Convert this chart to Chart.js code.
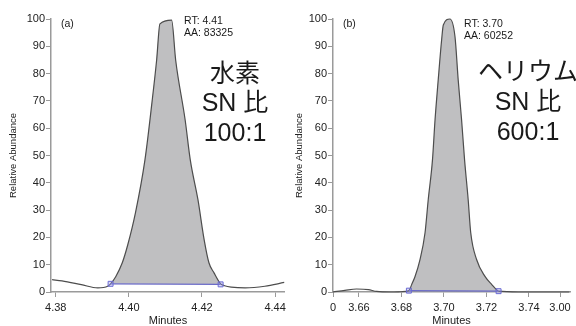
<!DOCTYPE html>
<html><head><meta charset="utf-8">
<script src="https://cdn.jsdelivr.net/npm/chart.js@4.4.0/dist/chart.umd.min.js"></script>
<style>
html,body{margin:0;padding:0;background:#fff;}
#wrap{position:relative;width:576px;height:326px;overflow:hidden;}
#ca{position:absolute;left:0;top:0;}
#cb{position:absolute;left:290px;top:0;}
</style></head><body>
<div id="wrap"><canvas id="ca" width="290" height="326"></canvas><canvas id="cb" width="286" height="326"></canvas></div>
<script>
// ---- Panel (a): hydrogen carrier ----
const timeA = [4.3790, 4.3817, 4.3870, 4.3915, 4.3942, 4.3950, 4.3964, 4.3982, 4.3997, 4.4018, 4.4044, 4.4064, 4.4076, 4.4085, 4.4117, 4.4128, 4.4154, 4.4168, 4.4189, 4.4206, 4.4219, 4.4233, 4.4251, 4.4262, 4.4280, 4.4318, 4.4372, 4.4425];
const abundA = [4.5, 4.1, 2.7, 1.5, 2.1, 3.0, 5.6, 10.7, 17.3, 29.0, 48.4, 70.4, 85.0, 98.2, 99.6, 85.0, 63.0, 48.4, 33.8, 19.1, 10.7, 7.0, 3.0, 2.3, 1.8, 1.5, 2.1, 3.5];
const baseTimeA = [4.3950, 4.4251];
const baseAbundA = [3.0, 2.8];
const xTicksA = [4.38, 4.40, 4.42, 4.44];
const xLabelsA = ['4.38', '4.40', '4.42', '4.44'];
const xRangeA = [4.3787, 4.4427];
const textA = {tag: '(a)', rt: 'RT: 4.41', aa: 'AA: 83325', big: ['水素', 'SN 比', '100:1']};

// ---- Panel (b): helium carrier ----
const timeB = [3.6478, 3.6534, 3.6589, 3.6644, 3.6683, 3.6750, 3.6800, 3.6835, 3.6848, 3.6864, 3.6887, 3.6911, 3.6926, 3.6946, 3.6958, 3.6973, 3.6989, 3.6997, 3.7028, 3.7052, 3.7067, 3.7083, 3.7097, 3.7114, 3.7126, 3.7154, 3.7193, 3.7225, 3.7248, 3.7257, 3.7350, 3.7590];
const abundB = [0, 0.6, 1.1, 0.9, 0.2, 0, 0.1, 0.5, 2.7, 5.7, 11.8, 21.7, 33.8, 48.4, 63.0, 77.7, 92.3, 97.8, 100, 93.5, 77.7, 63.0, 48.4, 33.8, 21.7, 11.8, 5.7, 2.7, 0.8, 0.3, 0, 0];
const baseTimeB = [3.6835, 3.7257];
const baseAbundB = [0.5, 0.3];
const xTicksB = [3.6478, 3.66, 3.68, 3.70, 3.72, 3.74, 3.7546];
const xLabelsB = ['0', '3.66', '3.68', '3.70', '3.72', '3.74', '3.00'];
const xRangeB = [3.6478, 3.7593];
const textB = {tag: '(b)', rt: 'RT: 3.70', aa: 'AA: 60252', big: ['ヘリウム', 'SN 比', '600:1']};

const yTicks = [0, 10, 20, 30, 40, 50, 60, 70, 80, 90, 100];

const FONT = '"Liberation Sans", Arial, "Noto Sans CJK JP", sans-serif';
Chart.defaults.font.family = FONT;
Chart.defaults.color = '#222';

const textPlugin = {
  id: 'annot',
  afterDraw(chart, args, o) {
    const ctx = chart.ctx;
    ctx.save();
    ctx.fillStyle = '#1a1a1a';
    ctx.textBaseline = 'middle';
    ctx.textAlign = 'left';
    ctx.font = '10.5px ' + FONT;
    ctx.fillText(o.t.tag, o.tagX, o.tagY);
    ctx.fillText(o.t.rt, o.rtX, o.rtY);
    ctx.fillText(o.t.aa, o.rtX, o.rtY + 12.5);
    ctx.textAlign = 'center';
    ctx.font = '25px ' + FONT;
    o.t.big.forEach((s, i) => ctx.fillText(s, o.bigX, o.bigY[i]));
    ctx.restore();
  }
};

function pts(xs, ys) { return xs.map((x, i) => ({x: x, y: ys[i]})); }

function makeChart(id, time, abund, baseT, baseY, xTicks, xLabels, xRange, yWidth, titlePad, padRight, annot) {
  const curve = pts(time, abund);
  const peak = curve.filter(p => p.x >= baseT[0] - 1e-9 && p.x <= baseT[1] + 1e-9);
  const base = pts(baseT, baseY);
  const axisGrid = {display: true, drawOnChartArea: false, drawTicks: true, tickLength: 5, color: '#9a9a9a', lineWidth: 1};
  const axisBorder = {display: true, color: '#9a9a9a', width: 1.5};
  return new Chart(document.getElementById(id), {
    type: 'line',
    data: {
      datasets: [
        {data: base, showLine: false, pointStyle: 'rect', pointRadius: 3.5, pointBorderWidth: 1,
         pointBorderColor: '#6a6ad2', pointBackgroundColor: 'rgba(150,150,235,0.35)', clip: 6},
        {data: base, borderColor: '#6b6bc8', borderWidth: 1.2, pointRadius: 0, tension: 0, clip: 6},
        {data: curve, borderColor: '#4d4d4d', borderWidth: 1.2, pointRadius: 0, tension: 0.3,
         cubicInterpolationMode: 'monotone', clip: 6},
        {data: peak, borderWidth: 0, borderColor: 'rgba(0,0,0,0)', pointRadius: 0, tension: 0.3,
         cubicInterpolationMode: 'monotone', fill: 1, backgroundColor: '#bfbfc1', clip: 6}
      ]
    },
    options: {
      responsive: false, animation: false, devicePixelRatio: 1,
      layout: {padding: {top: 19, right: padRight, left: 0, bottom: 0}},
      plugins: {legend: {display: false}, tooltip: {enabled: false}, annot: annot},
      scales: {
        x: {
          type: 'linear', min: xRange[0], max: xRange[1],
          afterBuildTicks(s) { s.ticks = xTicks.map(v => ({value: v})); },
          ticks: {callback: (v, i) => xLabels[i], font: {size: 11}, color: '#222', padding: 4, maxRotation: 0, autoSkip: false},
          grid: axisGrid, border: axisBorder,
          title: {display: true, text: 'Minutes', font: {size: 11, lineHeight: 1}, color: '#222', padding: {top: 0, bottom: 0}},
          afterFit(s) { s.height = 34; }
        },
        y: {
          min: 0, max: 100,
          afterBuildTicks(s) { s.ticks = yTicks.map(v => ({value: v})); },
          ticks: {font: {size: 11}, color: '#222', padding: 1},
          grid: axisGrid, border: axisBorder,
          title: {display: true, text: 'Relative Abundance', font: {size: 9.5, lineHeight: 1.2}, color: '#222', padding: {top: titlePad, bottom: 0}},
          afterFit(s) { s.width = yWidth; }
        }
      }
    },
    plugins: [textPlugin]
  });
}

makeChart('ca', timeA, abundA, baseTimeA, baseAbundA, xTicksA, xLabelsA, xRangeA, 51, 8, 3,
  {t: textA, tagX: 61, tagY: 24, rtX: 184, rtY: 21, bigX: 235, bigY: [75, 104, 134]});
makeChart('cb', timeB, abundB, baseTimeB, baseAbundB, xTicksB, xLabelsB, xRangeB, 43, 4, 6,
  {t: textB, tagX: 53, tagY: 24, rtX: 174, rtY: 24, bigX: 238, bigY: [73, 103, 133]});
</script>
</body></html>
